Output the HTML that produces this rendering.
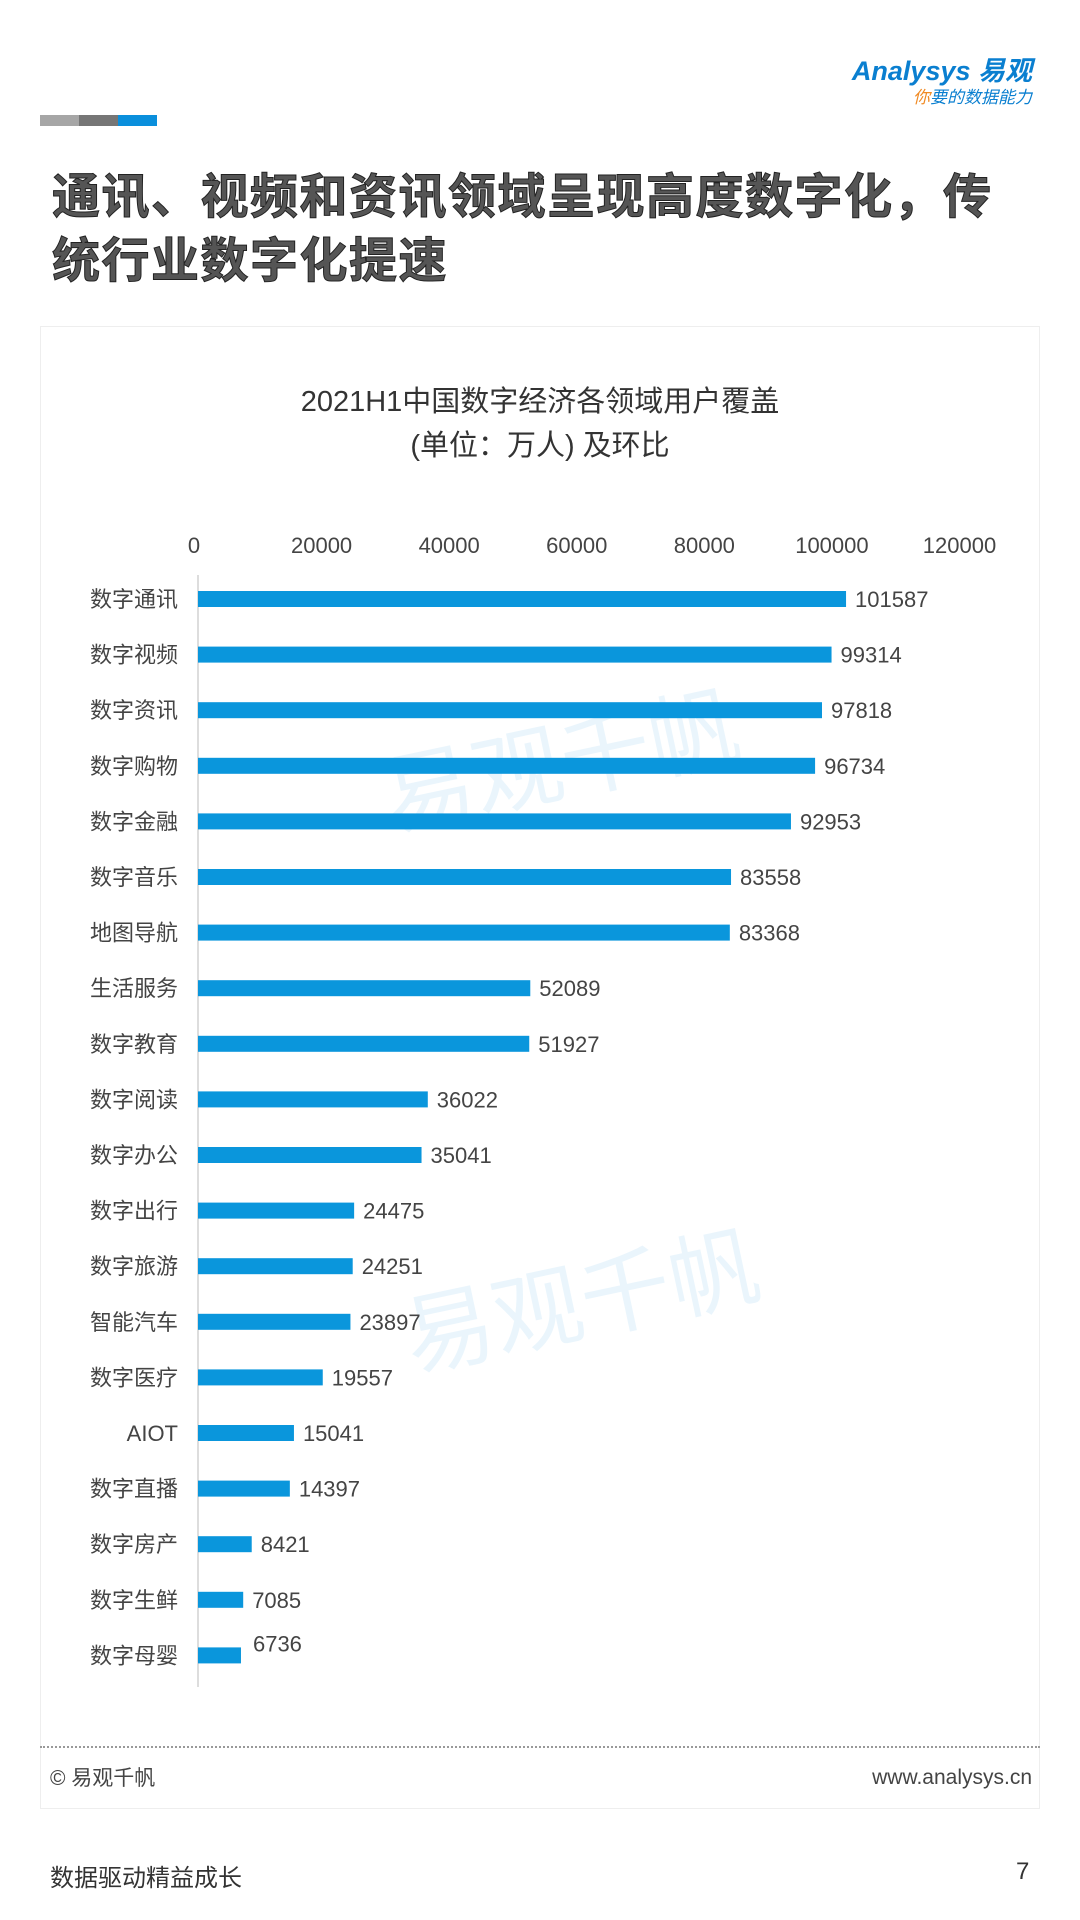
<!DOCTYPE html>
<html><head><meta charset="utf-8">
<style>
body{margin:0;width:1080px;height:1920px;background:#fff;position:relative;overflow:hidden;font-family:"Liberation Sans","Noto Sans CJK SC",sans-serif;color:#333}
.abs{position:absolute}
</style></head><body>
<div class="abs" style="right:48px;top:56px;text-align:right">
 <div style="color:#0a7fd0;font-size:27px;font-style:italic;font-weight:bold;line-height:30px">Analysys 易观</div>
 <div style="color:#0a7fd0;font-size:17px;font-style:italic;line-height:24px"><span style="color:#f08a24">你</span>要的数据能力</div>
</div>
<div class="abs" style="left:40px;top:115px;height:11px;width:117px;display:flex">
 <div style="flex:1;background:#a6a6a6"></div><div style="flex:1;background:#767676"></div><div style="flex:1;background:#0a8fdc"></div>
</div>
<div class="abs" style="left:52px;top:166px;width:1020px;white-space:nowrap;font-size:48px;font-weight:bold;line-height:64px;color:#555;-webkit-text-stroke:1px #222;letter-spacing:1.5px">通讯、视频和资讯领域呈现高度数字化，传<br>统行业数字化提速</div>
<div class="abs" style="left:40px;top:326px;width:1000px;height:1483px;border:1px solid #eee;box-sizing:border-box"></div>
<div class="abs" style="left:380px;top:690px;font-size:90px;color:#0a8fdc;opacity:0.08;transform:rotate(-12deg)">易观千帆</div>
<div class="abs" style="left:400px;top:1230px;font-size:90px;color:#0a8fdc;opacity:0.08;transform:rotate(-12deg)">易观千帆</div>
<div class="abs" style="left:40px;width:1000px;top:380px;text-align:center;font-size:29px;line-height:44px;color:#333">2021H1中国数字经济各领域用户覆盖<br>(单位：万人) 及环比</div>
<svg class="abs" style="left:0;top:0" width="1080" height="1920" id="chart"></svg>
<div class="abs" style="left:40px;top:1746px;width:1000px;border-top:2px dotted #999"></div>
<div class="abs" style="left:50px;top:1762px;font-size:21px;color:#444">© 易观千帆</div>
<div class="abs" style="right:48px;top:1766px;font-size:21px;color:#444">www.analysys.cn</div>
<div class="abs" style="left:50px;top:1858px;font-size:24px;color:#333">数据驱动精益成长</div>
<div class="abs" style="left:1016px;top:1858px;font-size:24px;color:#333">7</div>
<script>
const categories=["数字通讯","数字视频","数字资讯","数字购物","数字金融","数字音乐","地图导航","生活服务","数字教育","数字阅读","数字办公","数字出行","数字旅游","智能汽车","数字医疗","AIOT","数字直播","数字房产","数字生鲜","数字母婴"];
const values=[101587,99314,97818,96734,92953,83558,83368,52089,51927,36022,35041,24475,24251,23897,19557,15041,14397,8421,7085,6736];
const ticks=[0,20000,40000,60000,80000,100000,120000];
const NS="http://www.w3.org/2000/svg";
const svg=document.getElementById('chart');
const x0=198,xMax=963.5,dMax=120000,y0=599,step=55.6,bh=16;
const xs=v=>x0+(v/dMax)*(xMax-x0);
const ys=i=>y0+i*step;
function mk(t,a){const e=document.createElementNS(NS,t);for(const k in a)e.setAttribute(k,a[k]);svg.appendChild(e);return e;}
ticks.forEach((t,i)=>{const e=mk('text',{x:xs(t)-4,y:553,'text-anchor':'middle','font-size':22,fill:'#444','font-family':'Liberation Sans, sans-serif'});e.textContent=t;

});
const ax=mk('line',{x1:x0,x2:x0,y1:575,y2:1687,stroke:'#ddd','stroke-width':2});


categories.forEach((c,i)=>{
 const y=ys(i);
 const l=mk('text',{x:178,y:y+8,'text-anchor':'end','font-size':22,fill:'#444','font-family':'Liberation Sans, Noto Sans CJK SC, sans-serif'});l.textContent=c;
 
 
 const r=mk('rect',{x:x0,y:y-bh/2,width:xs(values[i])-x0,height:bh,fill:'#0a96dc'});
 
 
 const last=i===categories.length-1;
 const v=mk('text',{x:xs(values[i])+(last?12:9),y:y+8-(last?12:0),'font-size':22,fill:'#444','font-family':'Liberation Sans, sans-serif'});v.textContent=values[i];
 
 
});
</script>
</body></html>
